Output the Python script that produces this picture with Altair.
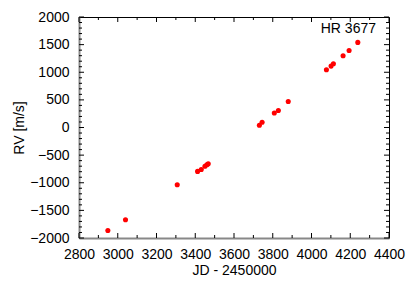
import altair as alt
import pandas as pd

# Data
jd = [2949, 3040, 3307, 3412, 3431, 3450, 3460, 3467,
      3731, 3745, 3808, 3829, 3880,
      4077, 4101, 4113, 4163, 4194, 4239]
rv = [-1865, -1671, -1036, -795, -760, -700, -675, -658,
      40, 94, 263, 307, 470,
      1044, 1111, 1153, 1298, 1395, 1540]

x_major = [2800, 3000, 3200, 3400, 3600, 3800, 4000, 4200, 4400]
x_minor = [2900, 3100, 3300, 3500, 3700, 3900, 4100, 4300]
y_major = [-2000, -1500, -1000, -500, 0, 500, 1000, 1500, 2000]
y_minor = [-1900, -1800, -1700, -1600, -1400, -1300, -1200, -1100,
           -900, -800, -700, -600, -400, -300, -200, -100,
           100, 200, 300, 400, 600, 700, 800, 900,
           1100, 1200, 1300, 1400, 1600, 1700, 1800, 1900]

label_text = "HR 3677"

W, H = 310, 221
MAJ, MIN = 5, 3
FONT = "Liberation Sans"

pts = pd.DataFrame({"jd": jd, "rv": rv})
xmaj = pd.DataFrame({"jd": x_major})
xmin = pd.DataFrame({"jd": x_minor})
ymaj = pd.DataFrame({"rv": y_major})
ymin = pd.DataFrame({"rv": y_minor})

xscale = alt.Scale(domain=[2800, 4400], nice=False, zero=False)
yscale = alt.Scale(domain=[-2000, 2000], nice=False, zero=False)

xaxis = alt.Axis(values=x_major, format="d", ticks=False, tickSize=0, grid=False,
                 labelFontSize=14, labelFont=FONT, labelColor="black",
                 labelPadding=9, labelFlush=False, labelOverlap=False,
                 title="JD - 2450000", titleFontSize=14, titleFont=FONT,
                 titleFontWeight="normal", titleColor="black", titlePadding=2,
                 domainColor="#888888", domainWidth=2)
yaxis = alt.Axis(values=y_major, format="d", ticks=False, tickSize=0, grid=False,
                 labelFontSize=14, labelFont=FONT, labelColor="black",
                 labelPadding=10, labelFlush=False, labelOverlap=False,
                 title="RV [m/s]", titleFontSize=14, titleFont=FONT,
                 titleFontWeight="normal", titleColor="black", titlePadding=3,
                 domainColor="#888888", domainWidth=2)

X = alt.X("jd:Q", scale=xscale, axis=xaxis, title="JD - 2450000")
Y = alt.Y("rv:Q", scale=yscale, axis=yaxis, title="RV [m/s]")

points = alt.Chart(pts).mark_circle(size=26, color="#ff0000", opacity=1).encode(x=X, y=Y)

def xticks(df, length):
    bottom = alt.Chart(df).mark_rule(color="black", strokeWidth=1).encode(
        x=X, y=alt.value(H), y2=alt.value(H - length))
    top = alt.Chart(df).mark_rule(color="black", strokeWidth=1).encode(
        x=X, y=alt.value(0), y2=alt.value(length))
    return [bottom, top]

def yticks(df, length):
    left = alt.Chart(df).mark_rule(color="black", strokeWidth=1).encode(
        y=Y, x=alt.value(0), x2=alt.value(length))
    right = alt.Chart(df).mark_rule(color="black", strokeWidth=1).encode(
        y=Y, x=alt.value(W), x2=alt.value(W - length))
    return [left, right]

label = alt.Chart(pd.DataFrame({"t": [label_text]})).mark_text(
    align="right", baseline="middle", fontSize=14, font=FONT, color="black"
).encode(x=alt.value(W - 13), y=alt.value(12), text="t:N")

layers = [points] + (xticks(xmaj, MAJ) + xticks(xmin, MIN) + yticks(ymaj, MAJ)
          + yticks(ymin, MIN) + [label])

chart = alt.layer(*layers).properties(
    width=W, height=H,
    padding={"left": 71, "top": 9, "right": 18, "bottom": 37},
    autosize="none",
    background="white",
).configure_view(stroke="black", strokeWidth=1)

chart.save("out.html", embed_options={"renderer": "svg", "actions": False})
